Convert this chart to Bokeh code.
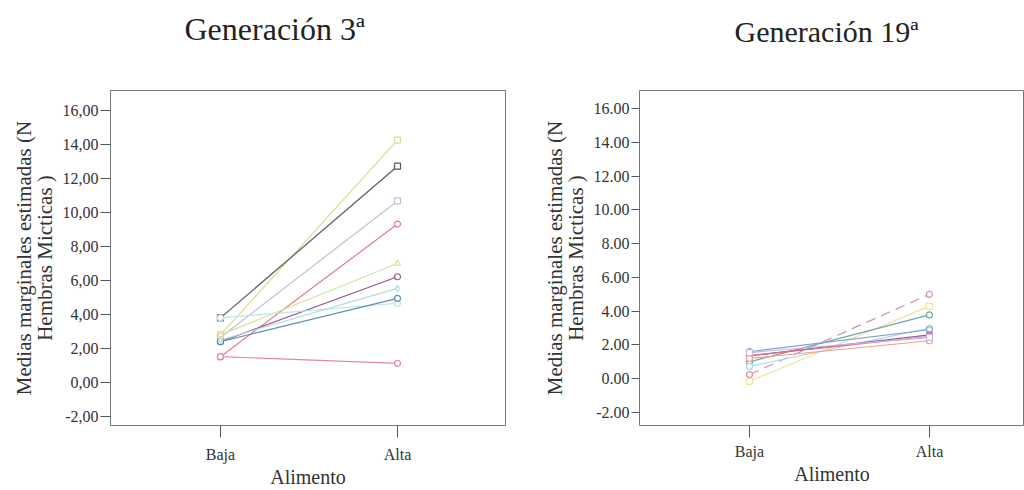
from bokeh.plotting import figure
from bokeh.layouts import row
from bokeh.models import FixedTicker, Range1d, Title
from bokeh.embed import file_html
from bokeh.resources import INLINE

# ---------------- data ----------------
categories = ["Baja", "Alta"]
y_tick_values = [-2, 0, 2, 4, 6, 8, 10, 12, 14, 16]
left_tick_labels = ["-2,00", "0,00", "2,00", "4,00", "6,00", "8,00", "10,00", "12,00", "14,00", "16,00"]
right_tick_labels = ["-2.00", "0.00", "2.00", "4.00", "6.00", "8.00", "10.00", "12.00", "14.00", "16.00"]

gen3_baja = [2.80, 3.80, 2.65, 1.52, 2.80, 2.40, 3.80, 2.40, 2.50, 1.52]
gen3_alta = [14.25, 12.72, 10.68, 9.32, 7.00, 6.22, 4.66, 4.95, 5.54, 1.13]

gen19_baja = [0.25, -0.15, 1.00, 0.73, 1.60, 1.36, 1.36, 1.20, 1.55]
gen19_alta = [5.00, 4.30, 3.78, 3.00, 2.90, 2.60, 2.50, 2.25, 2.45]

title_left = "Generación 3ª"
title_right = "Generación 19ª"
x_label = "Alimento"
y_label = "Medias marginales estimadas (N\nHembras Micticas )"

# ---------------- styles ----------------
colors_left = ["#e2d98f", "#4f5b66", "#c4c0d4", "#e8798f", "#d3e3a0",
               "#8d5a8f", "#bde2ea", "#5d8fb5", "#b3dcdc", "#e58a9c"]
markers_left = ["square", "square", "square", "circle", "triangle",
                "circle", "circle", "circle", "diamond", "circle"]
colors_right = ["#d98fb5", "#efe3a0", "#6fa8a8", "#a8d8ea", "#7f9fd0",
                "#9a5a9a", "#e06a88", "#f0a080", "#c7b8e0"]
markers_right = ["circle", "square", "circle", "circle", "circle",
                 "circle", "circle", "circle", "square"]
dashes_right = ["10 6", "solid", "solid", "solid", "solid",
                "solid", "solid", "solid", "solid"]

FONT = "'Liberation Serif'"
TXT = "#333333"


def make_panel(title, title_offset, title_size, title_standoff, baja, alta,
               colors, markers, dashes, tick_labels, b_left, b_right,
               x_range, y_range, tick_out_y, label_standoff_x):
    p = figure(width=512, height=490, output_backend="svg",
               toolbar_location=None, title=None,
               x_range=Range1d(*x_range), y_range=Range1d(*y_range),
               min_border_left=b_left, min_border_right=b_right,
               min_border_top=90, min_border_bottom=64)
    xs = list(range(len(categories)))
    for i, (b, a) in enumerate(zip(baja, alta)):
        p.line(xs, [b, a], line_color=colors[i], line_width=1.2,
               line_dash=dashes[i])
        p.scatter(xs, [b, a], marker=markers[i], size=6,
                  line_color=colors[i], fill_color="white", line_width=1.2)

    # second (blank) line lifts the title towards the top of the page
    p.add_layout(Title(text=title + "\n ", align="left", offset=title_offset,
                       vertical_align="bottom", standoff=title_standoff,
                       text_font=FONT, text_font_size=title_size,
                       text_font_style="normal", text_color="#222222"), "above")

    p.xgrid.visible = False
    p.ygrid.visible = False
    p.outline_line_color = "#777777"
    p.outline_line_width = 1
    p.background_fill_color = "white"
    p.border_fill_color = "white"

    xa = p.xaxis[0]
    xa.ticker = FixedTicker(ticks=xs)
    xa.major_label_overrides = {x: c for x, c in zip(xs, categories)}
    xa.axis_line_color = None
    xa.major_tick_in = 0
    xa.major_tick_out = 12
    xa.major_tick_line_color = "#555555"
    xa.minor_tick_line_color = None
    xa.major_label_text_font = FONT
    xa.major_label_text_font_size = "16px"
    xa.major_label_text_color = TXT
    xa.major_label_standoff = label_standoff_x
    xa.axis_label = x_label
    xa.axis_label_text_font = FONT
    xa.axis_label_text_font_size = "20px"
    xa.axis_label_text_font_style = "normal"
    xa.axis_label_text_color = TXT
    xa.axis_label_standoff = 0

    ya = p.yaxis[0]
    ya.ticker = FixedTicker(ticks=y_tick_values)
    ya.major_label_overrides = {v: s for v, s in zip(y_tick_values, tick_labels)}
    ya.axis_line_color = None
    ya.major_tick_in = 0
    ya.major_tick_out = tick_out_y
    ya.major_tick_line_color = "#555555"
    ya.minor_tick_line_color = None
    ya.major_label_text_font = FONT
    ya.major_label_text_font_size = "16px"
    ya.major_label_text_color = TXT
    ya.major_label_standoff = 2
    ya.axis_label = y_label
    ya.axis_label_text_font = FONT
    ya.axis_label_text_font_size = "21px"
    ya.axis_label_text_font_style = "normal"
    ya.axis_label_text_line_height = 0.85
    ya.axis_label_text_color = TXT
    ya.axis_label_standoff = 3
    return p


left = make_panel(title_left, 74, "32px", 16, gen3_baja, gen3_alta,
                  colors_left, markers_left, ["solid"] * len(gen3_baja),
                  left_tick_labels, b_left=110, b_right=7,
                  x_range=(-0.621, 1.610), y_range=(-2.528, 17.173),
                  tick_out_y=10, label_standoff_x=8)
right = make_panel(title_right, 95, "30px", 20, gen19_baja, gen19_alta,
                   colors_right, markers_right, dashes_right,
                   right_tick_labels, b_left=127, b_right=0,
                   x_range=(-0.611, 1.528), y_range=(-2.767, 17.062),
                   tick_out_y=8, label_standoff_x=5)

layout = row(left, right)
open("out.html", "w").write(file_html(layout, INLINE))
